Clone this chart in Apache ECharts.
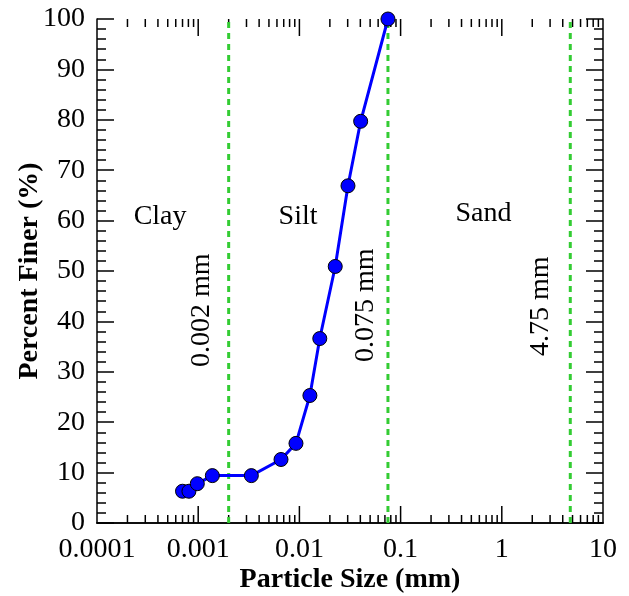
<!DOCTYPE html>
<html>
<head>
<meta charset="utf-8">
<script src="https://cdn.jsdelivr.net/npm/echarts@6/dist/echarts.min.js"></script>
<style>
  html, body { margin: 0; padding: 0; background: #fff; }
  #chart { width: 629px; height: 596px; }
</style>
</head>
<body>
<div id="chart"></div>
<script>
// grain size distribution
var sizes = [0.0007, 0.00081, 0.00098, 0.00138, 0.00335, 0.00658, 0.00925, 0.0127, 0.0159, 0.0226, 0.0302, 0.0403, 0.075];
var finer = [6.3, 6.3, 7.8, 9.4, 9.4, 12.6, 15.8, 25.3, 36.6, 50.9, 66.9, 79.7, 100];

var boundaries = [0.002, 0.075, 4.75];
var decades = [0.0001, 0.001, 0.01, 0.1, 1];

var zoneNames = ['Clay', 'Silt', 'Sand'];
var zoneX = [0.00042, 0.0097, 0.66];
var zoneY = [60.8, 60.8, 61.4];

var boundNames = ['0.002 mm', '0.075 mm', '4.75 mm'];
var boundX = [0.00109, 0.0455, 2.44];
var boundY = [42.2, 43.2, 43];

var font = 'Liberation Serif';

// log ticks: majors at inner decades, minors at 2..9 of each decade
var xTicks = [];
decades.forEach(function (d, i) {
    if (i > 0) xTicks.push([d, 17]);
    for (var k = 2; k <= 9; k++) xTicks.push([d * k, 8]);
});

var myChart = echarts.init(document.getElementById('chart'));

var tickStyle = { color: '#000', width: 1.5 };

var option = {
    backgroundColor: '#FFF',
    animation: false,
    grid: { left: 97, right: 26, top: 19, bottom: 73, outerBoundsMode: 'none', containLabel: false },
    xAxis: [
        {
            type: 'log',
            min: 0.0001,
            max: 10,
            logBase: 10,
            name: 'Particle Size (mm)',
            nameLocation: 'middle',
            nameGap: 43,
            nameMoveOverlap: false,
            nameTextStyle: { fontFamily: font, fontWeight: 'bold', fontSize: 28, color: '#000' },
            axisLine: { lineStyle: { color: '#000', width: 1.5 } },
            axisTick: { show: false },
            axisLabel: {
                margin: 13,
                fontFamily: font, fontSize: 28, color: '#000',
                formatter: function (v) { return String(Number(v.toPrecision(1))); }
            },
            splitLine: { show: false }
        },
        {
            type: 'log',
            position: 'top',
            min: 0.0001,
            max: 10,
            logBase: 10,
            axisLine: { lineStyle: { color: '#000', width: 1.5 } },
            axisTick: { show: false },
            axisLabel: { show: false },
            splitLine: { show: false }
        }
    ],
    yAxis: [
        {
            type: 'value',
            min: 0,
            max: 100,
            interval: 10,
            name: 'Percent Finer (%)',
            nameLocation: 'middle',
            nameGap: 53,
            nameMoveOverlap: false,
            nameTextStyle: { fontFamily: font, fontWeight: 'bold', fontSize: 28, color: '#000' },
            axisLine: { show: true, lineStyle: { color: '#000', width: 1.5 } },
            axisTick: { inside: true, length: 17, lineStyle: tickStyle },
            minorTick: { show: true, splitNumber: 5, length: 9, lineStyle: tickStyle },
            axisLabel: { margin: 12, fontFamily: font, fontSize: 28, color: '#000' },
            splitLine: { show: false }
        },
        {
            type: 'value',
            position: 'right',
            min: 0,
            max: 100,
            interval: 10,
            axisLine: { show: true, lineStyle: { color: '#000', width: 1.5 } },
            axisTick: { inside: true, length: 17, lineStyle: tickStyle },
            minorTick: { show: true, splitNumber: 5, length: 9, lineStyle: tickStyle },
            axisLabel: { show: false },
            splitLine: { show: false }
        }
    ],
    series: [
        {
            // x ticks on bottom and top edges
            type: 'custom',
            silent: true,
            data: xTicks,
            renderItem: function (params, api) {
                var len = api.value(1);
                var b = api.coord([api.value(0), 0]);
                var t = api.coord([api.value(0), 100]);
                return {
                    type: 'group',
                    children: [
                        { type: 'line', shape: { x1: b[0], y1: b[1], x2: b[0], y2: b[1] - len }, style: { stroke: '#000', lineWidth: 1.5 } },
                        { type: 'line', shape: { x1: t[0], y1: t[1], x2: t[0], y2: t[1] + len }, style: { stroke: '#000', lineWidth: 1.5 } }
                    ]
                };
            },
            z: 1
        },
        {
            // soil class boundaries
            type: 'custom',
            silent: true,
            data: boundaries.map(function (b) { return [b]; }),
            renderItem: function (params, api) {
                var b = api.coord([api.value(0), 0]);
                var t = api.coord([api.value(0), 100]);
                return {
                    type: 'line',
                    shape: { x1: b[0], y1: b[1], x2: t[0], y2: t[1] },
                    style: { stroke: '#33CC33', lineWidth: 3, lineDash: [6, 5] }
                };
            },
            z: 2
        },
        {
            name: 'Finer',
            type: 'line',
            data: sizes.map(function (s, i) { return [s, finer[i]]; }),
            symbol: 'circle',
            symbolSize: 14,
            lineStyle: { color: '#0000FF', width: 3 },
            itemStyle: { color: '#0000FF', borderColor: '#000', borderWidth: 1 },
            z: 5
        },
        {
            type: 'scatter',
            silent: true,
            symbolSize: 0,
            itemStyle: { opacity: 1 },
            data: zoneNames.map(function (n, i) { return { name: n, value: [zoneX[i], zoneY[i]] }; }),
            label: {
                show: true, position: 'inside', formatter: '{b}', opacity: 1,
                fontFamily: font, fontSize: 28, color: '#000'
            }
        },
        {
            type: 'scatter',
            silent: true,
            symbolSize: 0,
            itemStyle: { opacity: 1 },
            data: boundNames.map(function (n, i) { return { name: n, value: [boundX[i], boundY[i]] }; }),
            label: {
                show: true, position: 'inside', formatter: '{b}', rotate: 90, opacity: 1,
                fontFamily: font, fontSize: 28, color: '#000'
            }
        }
    ]
};

myChart.setOption(option);
</script>
</body>
</html>
